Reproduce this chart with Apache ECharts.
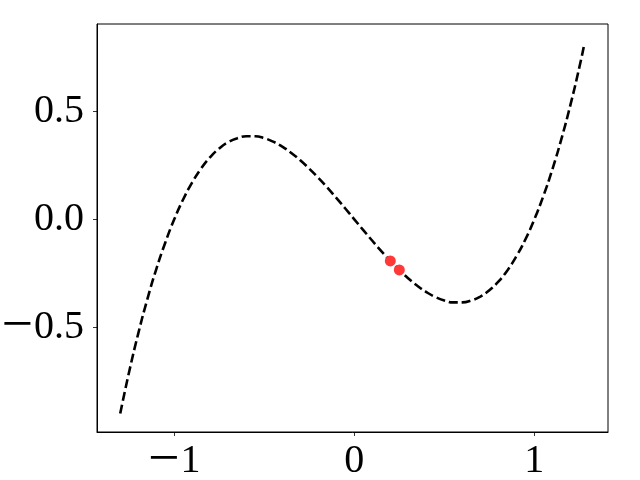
<!DOCTYPE html>
<html><head><meta charset="utf-8">
<script src="https://cdn.jsdelivr.net/npm/echarts@6/dist/echarts.min.js"></script>
<style>html,body{margin:0;padding:0;background:#fff}#c{width:640px;height:480px}</style>
</head><body><div id="c"></div>
<script>
const curveX = [-1.30,-1.25,-1.20,-1.15,-1.10,-1.05,-1.00,-0.95,-0.90,-0.85,-0.80,-0.75,-0.70,-0.65,-0.60,-0.55,-0.50,-0.45,-0.40,-0.35,-0.30,-0.25,-0.20,-0.15,-0.10,-0.05,0.00,0.05,0.10,0.15,0.20,0.25,0.30,0.35,0.40,0.45,0.50,0.55,0.60,0.65,0.70,0.75,0.80,0.85,0.90,0.95,1.00,1.05,1.10,1.15,1.20,1.25,1.275];
const curveY = [-0.897,-0.703,-0.528,-0.371,-0.231,-0.108,0.000,0.093,0.171,0.236,0.288,0.328,0.357,0.375,0.384,0.384,0.375,0.359,0.336,0.307,0.273,0.234,0.192,0.147,0.099,0.050,0.000,-0.050,-0.099,-0.147,-0.192,-0.234,-0.273,-0.307,-0.336,-0.359,-0.375,-0.384,-0.384,-0.375,-0.357,-0.328,-0.288,-0.236,-0.171,-0.093,0.000,0.108,0.231,0.371,0.528,0.703,0.800];
const pointsX = [0.20, 0.25];
const pointsY = [-0.192, -0.234];
const xTicks = [-1, 0, 1];
const yTicks = [-0.5, 0.0, 0.5];

const fmt = (v, d) => {
  const s = Math.abs(v).toFixed(d);
  return v < 0 ? '{m|\u2212}{n|' + s + '}' : '{n|' + s + '}';
};
const font = {color: '#000',
  rich: {
    m: {fontFamily: '"Liberation Serif", serif', fontSize: 56, lineHeight: 46, color: '#000', verticalAlign: 'middle', padding: [0, 1, 0, 0]},
    n: {fontFamily: '"Liberation Serif", serif', fontSize: 40, lineHeight: 46, color: '#000', verticalAlign: 'middle'}
  }};

const chart = echarts.init(document.getElementById('c'), null, {renderer: 'canvas'});
chart.setOption({
  animation: false,
  grid: {left: 97, right: 32, top: 24, bottom: 48, show: true, borderColor: '#000', borderWidth: 1, backgroundColor: 'transparent', outerBoundsMode: 'none', containLabel: false},
  xAxis: {
    type: 'value', min: -1.429, max: 1.409,
    splitLine: {show: false},
    axisLine: {show: true, onZero: false, lineStyle: {color: '#000', width: 1}},
    axisTick: {show: true, inside: false, length: 4, lineStyle: {color: '#000', width: 0.8}, customValues: xTicks},
    axisLabel: Object.assign({margin: 6, customValues: xTicks, formatter: v => fmt(v, 0)}, font)
  },
  yAxis: {
    type: 'value', min: -0.983, max: 0.903,
    splitLine: {show: false},
    axisLine: {show: true, onZero: false, lineStyle: {color: '#000', width: 1}},
    axisTick: {show: true, inside: false, length: 4, lineStyle: {color: '#000', width: 0.8}, customValues: yTicks},
    axisLabel: Object.assign({margin: 13, customValues: yTicks, formatter: v => fmt(v, 1)}, font)
  },
  series: [
    {
      type: 'line', smooth: true, showSymbol: false, z: 2,
      data: curveX.map((x, i) => [x, curveY[i]]),
      lineStyle: {color: '#000', width: 2.6, type: [9, 4]}
    },
    {
      type: 'scatter', symbol: 'circle', symbolSize: 11, z: 5,
      data: pointsX.map((x, i) => [x, pointsY[i]]),
      itemStyle: {color: '#ff3838', opacity: 1}
    }
  ]
});
</script></body></html>
